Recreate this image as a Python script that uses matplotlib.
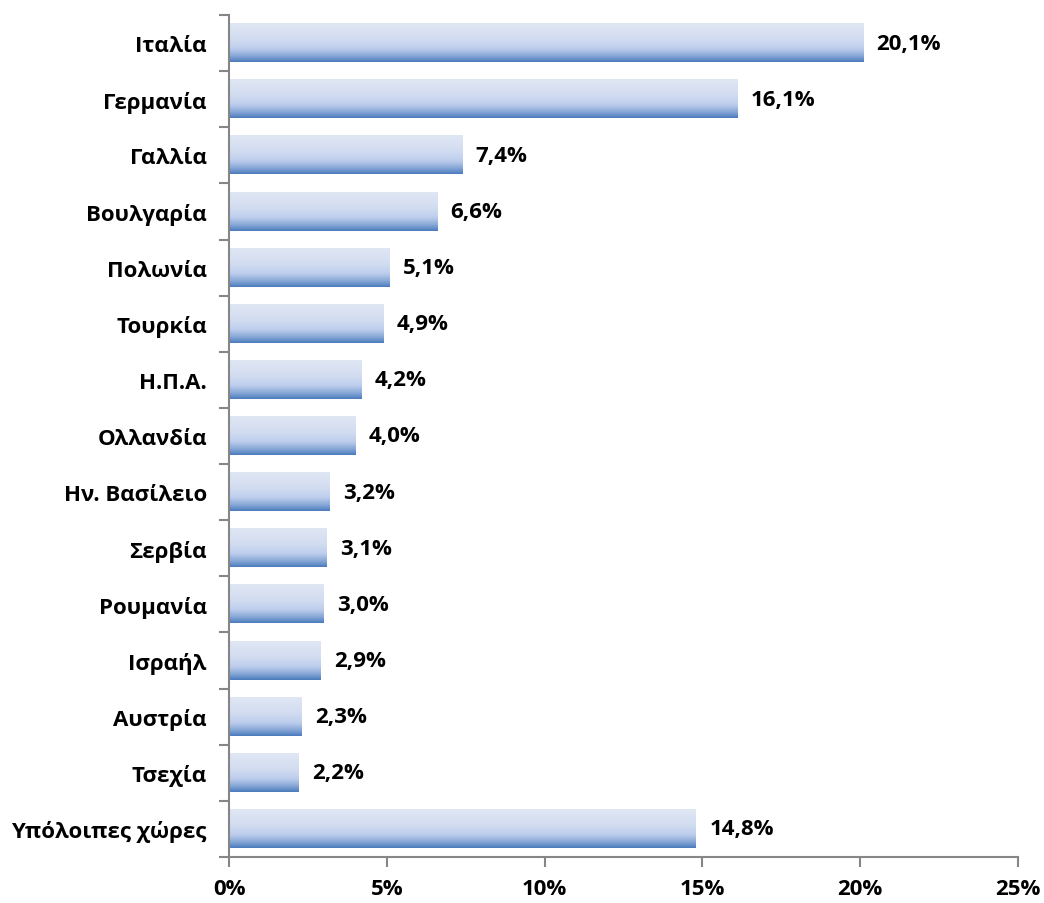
import numpy as np
import matplotlib.pyplot as plt
from matplotlib.colors import LinearSegmentedColormap
from matplotlib.ticker import FixedLocator, FuncFormatter

countries = ["Ιταλία", "Γερμανία", "Γαλλία", "Βουλγαρία", "Πολωνία", "Τουρκία",
             "Η.Π.Α.", "Ολλανδία", "Ην. Βασίλειο", "Σερβία", "Ρουμανία", "Ισραήλ",
             "Αυστρία", "Τσεχία", "Υπόλοιπες χώρες"]
shares = [20.1, 16.1, 7.4, 6.6, 5.1, 4.9, 4.2, 4.0, 3.2, 3.1, 3.0, 2.9, 2.3, 2.2, 14.8]
x_ticks = [0, 5, 10, 15, 20, 25]

plt.rcParams["font.family"] = ["Open Sans", "DejaVu Sans"]
FS = 16

# vertical gradient for the bars: pale at top, blue at the bottom edge
grad = LinearSegmentedColormap.from_list(
    "bar_grad",
    [(0.0, "#e0e7f4"), (0.4, "#d3ddf1"), (0.66, "#bccdec"), (0.85, "#85a5d5"), (1.0, "#4a7bbd")])

fig = plt.figure(figsize=(10.44, 9.04), dpi=100)
ax = fig.add_axes([0.2194, 0.0509, 0.7556, 0.9314])

y = np.arange(len(countries))
height = 0.68
bars = ax.barh(y, shares, height=height, color="none", edgecolor="none")

g = np.linspace(0, 1, 256).reshape(-1, 1)
for bar in bars:
    x0, y0 = bar.get_x(), bar.get_y()
    w, h = bar.get_width(), bar.get_height()
    ax.imshow(g, cmap=grad, aspect="auto", interpolation="bicubic",
              extent=[x0, x0 + w, y0 + h, y0], zorder=2)

for yi, v in zip(y, shares):
    ax.text(v + 0.42, yi, f"{v:.1f}%".replace(".", ","), va="center", ha="left",
            fontsize=FS, fontweight="bold", color="black")

ax.set_xlim(0, 25)
ax.set_ylim(len(countries) - 0.5, -0.5)
ax.set_xticks(x_ticks)
ax.xaxis.set_major_formatter(FuncFormatter(lambda v, p: f"{v:.0f}%"))
ax.set_yticks(y)
ax.set_yticklabels(countries)
ax.yaxis.set_minor_locator(FixedLocator(np.arange(-0.5, len(countries), 1.0)))

for lbl in ax.get_xticklabels() + ax.get_yticklabels():
    lbl.set_fontweight("bold")
    lbl.set_fontsize(FS)

ax.tick_params(axis="y", which="major", length=0, pad=16)
ax.tick_params(axis="y", which="minor", length=7, width=1.5, color="#868686", direction="out")
ax.tick_params(axis="x", which="major", length=7, width=1.5, color="#868686", direction="out", pad=8)

for side in ["top", "right"]:
    ax.spines[side].set_visible(False)
for side in ["left", "bottom"]:
    ax.spines[side].set_color("#868686")
    ax.spines[side].set_linewidth(1.5)

fig.savefig("out.png", dpi=100)
